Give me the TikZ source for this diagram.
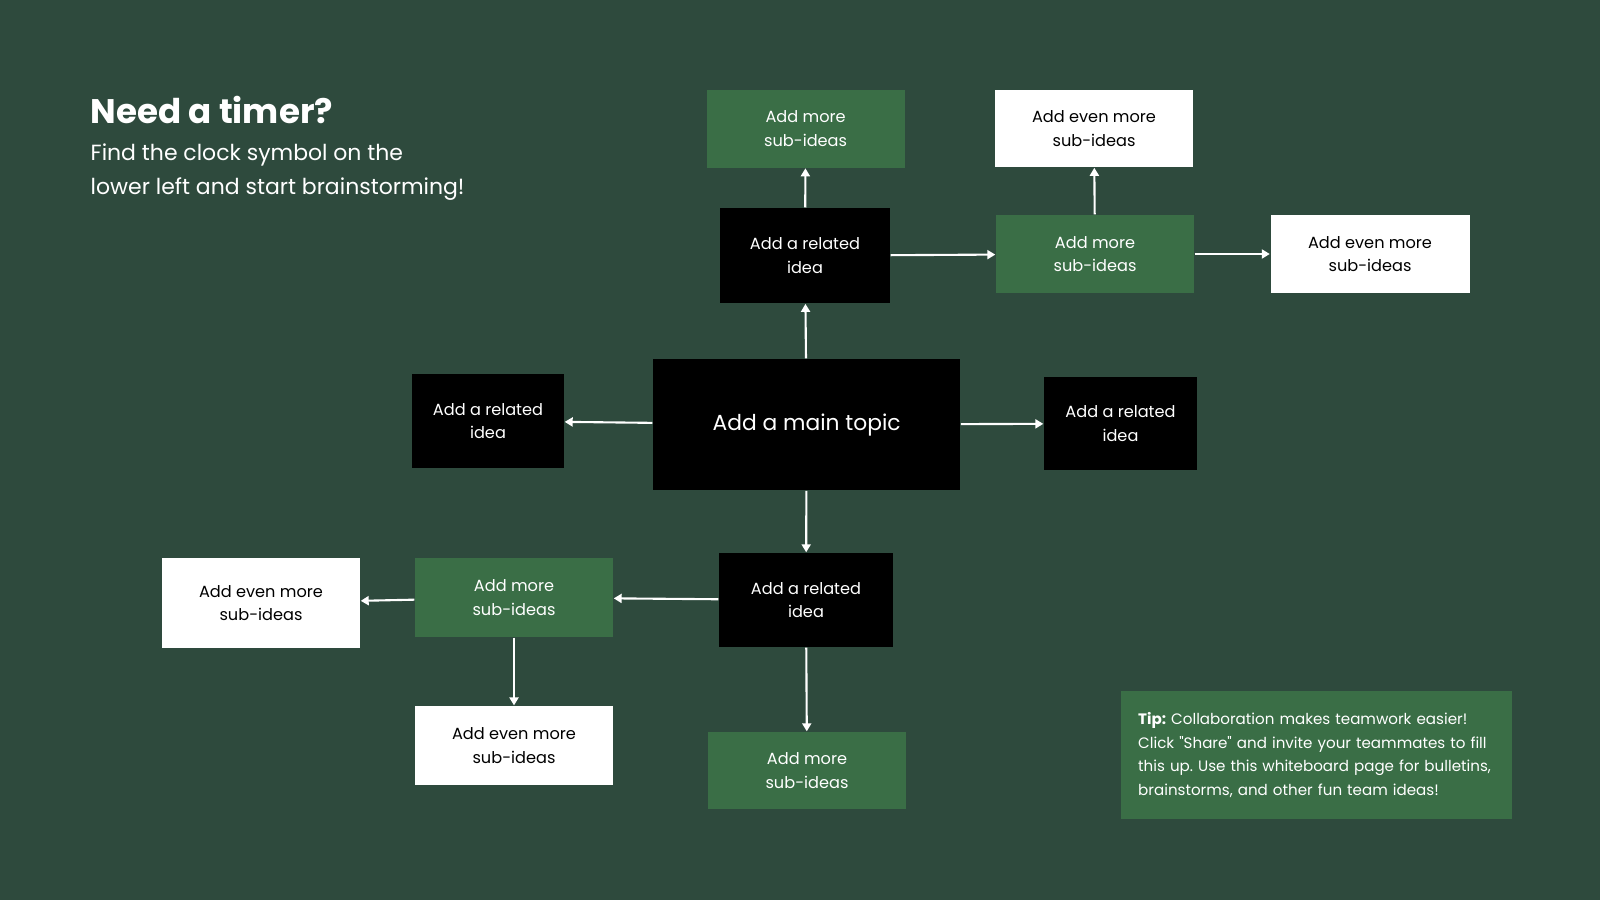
\documentclass[tikz,border=0pt]{standalone}
\usepackage{fontspec}
\setmainfont{Poppins}
\newfontfamily\plainpoppins{Poppins}
\usetikzlibrary{arrows.meta}
\frenchspacing

\definecolor{chalk}{RGB}{46,74,61}
\definecolor{leaf}{RGB}{58,110,70}

\tikzset{
	idea/.style={fill=black, text=white, inner sep=0pt, align=center, minimum width=1.70cm, minimum height=0.94cm, font=\fontsize{4.6}{6.7}\selectfont},
	subidea/.style={idea, fill=leaf, minimum width=1.98cm, minimum height=0.78cm},
	evenmore/.style={subidea, fill=white, text=black},
	link/.style={draw=white, line width=0.6pt, -{Triangle[length=0.8mm,width=0.9mm]}}
}

\begin{document}
\begin{tikzpicture}
	
	\fill[chalk] (0,0) rectangle (16,9);
	
	\node[anchor=base west, inner sep=0pt, text=white, font=\bfseries\fontsize{9.7}{12}\selectfont] (title) at (0.90, 7.76) {Need a timer?};
	\node[anchor=base west, inner sep=0pt, text=white, font=\fontsize{6.25}{8}\selectfont] (hintone) at (0.90, 7.393) {Find the clock symbol on the};
	\node[anchor=base west, inner sep=0pt, text=white, font=\fontsize{6.25}{8}\selectfont] (hinttwo) at (0.90, 7.05) {lower left and start brainstorming!};
	
	\node[idea, minimum width=3.07cm, minimum height=1.31cm, font=\fontsize{6.2}{8}\selectfont] (main) at (8.066, 4.754) {Add a main topic};
	
	\node[idea, minimum height=0.95cm] (relup) at (8.05, 6.443) {Add a related\\idea};
	\node[subidea] (moreup) at (8.056, 7.714) {Add more\\sub-ideas};
	\node[evenmore, minimum height=0.77cm] (evenup) at (10.94, 7.714) {Add even more\\sub-ideas};
	\node[subidea] (moreright) at (10.95, 6.46) {Add more\\sub-ideas};
	\node[evenmore, minimum width=1.99cm] (evenright) at (13.70, 6.46) {Add even more\\sub-ideas};
	
	\node[idea, minimum width=1.52cm] (relleft) at (4.88, 4.79) {Add a related\\idea};
	\node[idea, minimum width=1.53cm, minimum height=0.93cm] (relright) at (11.205, 4.764) {Add a related\\idea};
	
	\node[idea, minimum width=1.74cm] (reldown) at (8.06, 3.0) {Add a related\\idea};
	\node[subidea, minimum height=0.79cm] (moreleft) at (5.14, 3.025) {Add more\\sub-ideas};
	\node[evenmore, minimum height=0.90cm] (evenleft) at (2.61, 2.97) {Add even more\\sub-ideas};
	\node[evenmore, minimum height=0.79cm] (evendown) at (5.14, 1.544) {Add even more\\sub-ideas};
	\node[subidea, minimum height=0.77cm] (moredown) at (8.07, 1.295) {Add more\\sub-ideas};
	
	\node[fill=leaf, text=white, inner sep=0pt, minimum width=3.91cm, minimum height=1.28cm, text width=3.57cm, align=left, font=\plainpoppins\fontsize{4.3}{6.7}\selectfont] (tip) at (13.167, 1.45) {\textbf{Tip:} Collaboration makes teamwork easier!\\Click "Share" and invite your teammates to fill\\this up. Use this whiteboard page for bulletins,\\brainstorms, and other fun team ideas!};
	
	\draw[link] (main) -- (relup);
	\draw[link] (relup) -- (moreup);
	\draw[link] (relup) -- (moreright);
	\draw[link] (moreright) -- (evenup);
	\draw[link] (moreright) -- (evenright);
	\draw[link] (main) -- (relleft);
	\draw[link] (main) -- (relright);
	\draw[link] (main) -- (reldown);
	\draw[link] (reldown) -- (moreleft);
	\draw[link] (moreleft) -- (evenleft);
	\draw[link] (moreleft) -- (evendown);
	\draw[link] (reldown) -- (moredown);
	
\end{tikzpicture}
\end{document}
